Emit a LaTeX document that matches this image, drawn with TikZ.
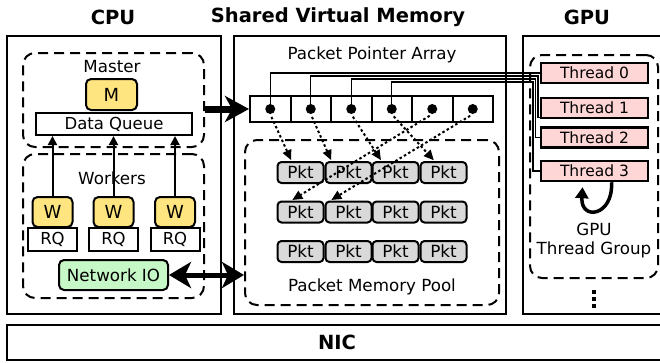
\documentclass[tikz,border=0pt]{standalone}
\usepackage{fontspec}
\setmainfont{DejaVu Sans}
\usetikzlibrary{arrows.meta,calc}

\definecolor{coreY}{HTML}{FFE57F}
\definecolor{ioG}{HTML}{C6F7C6}
\definecolor{thrP}{HTML}{FFD6D6}
\definecolor{pktG}{HTML}{D9D9D9}

\tikzset{
  panel/.style={draw, line width=2pt, inner sep=0pt},
  grp/.style={draw, line width=2pt, dash pattern=on 10pt off 6pt, rounded corners=12pt, inner sep=0pt},
  title/.style={font=\bfseries\fontsize{19.5}{22}\selectfont, inner sep=0pt},
  lbl/.style={font=\fontsize{16.7}{18}\selectfont, inner sep=0pt, align=center},
  core/.style={draw, line width=2pt, rounded corners=5pt, fill=coreY, inner sep=0pt,
    font=\fontsize{18}{20}\selectfont},
  plain/.style={draw, line width=2pt, fill=white, inner sep=0pt, font=\fontsize{16.5}{18}\selectfont},
  io/.style={draw, line width=2pt, rounded corners=5pt, fill=ioG, inner sep=0pt,
    font=\fontsize{16.7}{18}\selectfont},
  cell/.style={draw, line width=2pt, fill=white, minimum width=40.5pt, minimum height=26pt, inner sep=0pt},
  ptrdot/.style={circle, fill=black, minimum size=10pt, inner sep=0pt},
  pkt/.style={draw, line width=2pt, rounded corners=4pt, fill=pktG, minimum width=46pt,
    minimum height=21pt, inner sep=0pt, font=\fontsize{16.8}{18}\selectfont},
  thr/.style={draw, line width=2.5pt, fill=thrP, minimum width=107pt, minimum height=20pt,
    inner sep=0pt, font=\fontsize{15.5}{17}\selectfont},
  wire/.style={line width=1.2pt},
  uparrow/.style={line width=2pt, -{Triangle[length=9pt,width=9pt]}},
  ptr/.style={line width=2pt, dash pattern=on 2.5pt off 2.5pt, shorten <=3pt, shorten >=1pt,
    -{Triangle[length=10pt,width=9pt]}},
  bigarrow/.style={line width=7pt, -{Stealth[length=24pt,width=26pt,inset=7pt]}},
  bigdouble/.style={line width=5pt, {Stealth[length=22pt,width=26pt,inset=6pt]}-{Stealth[length=22pt,width=26pt,inset=6pt]}},
  looparrow/.style={line width=3.5pt, -{Triangle[length=11pt,width=13pt]}},
  vdots/.style={line width=4pt, dash pattern=on 4pt off 3pt}
}

\begin{document}
\begin{tikzpicture}[x=1pt,y=-1pt]
\useasboundingbox (0,0) rectangle (660,362);

% column titles
\node[title] (tcpu) at (113,17) {CPU};
\node[title] (tsvm) at (338,17) {Shared Virtual Memory};
\node[title] (tgpu) at (587,17) {GPU};

% outer panels
\node[panel, minimum width=214pt, minimum height=278pt] (cpu) at (114,175) {};
\node[panel, minimum width=272pt, minimum height=278pt] (svm) at (370,175) {};
\node[panel, minimum width=150pt, minimum height=278pt] (gpu) at (598,175) {};
\node[panel, minimum width=670pt, minimum height=35pt] (nicbox) at (342,342.5) {};
\node[title] (nic) at (337,342) {NIC};

% dashed groups
\node[grp, minimum width=181pt, minimum height=94pt] (master) at (113.5,100) {};
\node[grp, minimum width=181pt, minimum height=144pt] (workers) at (113.5,226) {};
\node[grp, minimum width=254pt, minimum height=165pt] (pool) at (372,222.5) {};
\node[grp, minimum width=128pt, minimum height=223pt] (tgroup) at (594,166.5) {};

% CPU side
\node[lbl] (lmaster) at (112,67) {Master};
\node[core, minimum width=51pt, minimum height=31pt] (m) at (111.5,94.5) {M};
\node[plain, minimum width=156pt, minimum height=22pt] (dq) at (114,124) {Data Queue};
\node[lbl] (lworkers) at (112,178) {Workers};
\foreach \i/\x in {1/52.5,2/113.5,3/175}{
  \node[core, minimum width=40pt, minimum height=30pt] (w\i) at (\x,212) {W};
  \node[plain, minimum width=49pt, minimum height=23pt] (rq\i) at (\x,239.5) {RQ};
  \draw[uparrow] (w\i.north) -- (w\i.north |- dq.south);
}
\node[io, minimum width=109pt, minimum height=30pt] (nio) at (113.5,275) {Network IO};

% shared memory: pointer array and packet pool
\node[lbl] (lppa) at (372,55) {Packet Pointer Array};
\foreach \i in {0,...,5}{
  \node[cell] (p\i) at ({270.25+40.5*\i},109) {};
}
\foreach \r/\y in {0/172.5,1/212,2/251.5}{
  \foreach \c/\x in {0/300.5,1/348.5,2/395.5,3/443.5}{
    \node[pkt] (k\r\c) at (\x,\y) {Pkt};
  }
}
\node[lbl] (lpool) at (372,287) {Packet Memory Pool};

% GPU threads
\foreach \i/\y in {0/73,1/108,2/137.5,3/171}{
  \node[thr] (t\i) at (594.5,\y) {Thread \i};
}
\node[lbl] (lgroup) at (594,241) {GPU\\[1pt]Thread Group};

% pointer-to-thread wiring
\coordinate (b1) at (538,76);
\coordinate (b2) at (535.5,79);
\coordinate (b3) at (533,82);
\draw[wire] (p0.center) |- (t0.west);
\draw[wire] (p1.center) |- (b1) |- ($(t1.south west)+(0,-2)$);
\draw[wire] (p2.center) |- (b2) |- (t2.west);
\draw[wire] (p3.center) |- (b3) |- (t3.west);
\foreach \i in {0,...,5}{
  \node[ptrdot] (d\i) at (p\i) {};
}

% pointers into the packet pool
\draw[ptr] (d0.south) -- ($(k00.north west)+(15,0)$);
\draw[ptr] (d1.south) -- ($(k01.north west)+(7,0)$);
\draw[ptr] (d2.south) -- ($(k02.north west)+(10,0)$);
\draw[ptr] (d3.south) -- ($(k03.north west)+(15,0)$);
\draw[ptr] (d4.south) -- ($(k10.north west)+(15,0)$);
\draw[ptr] (d5.south) -- ($(k11.north west)+(6,0)$);

% data flow
\draw[bigarrow] (master.east |- p0.west) -- (p0.west);
\draw[bigdouble] (nio.east) -- (nio.east -| pool.west);

% thread loop and continuation marks
\draw[looparrow] ($(t3.south)+(17,0)$) .. controls +(2,34) and +(-2,34) .. ($(t3.south)+(-12,5)$);
\draw[vdots] (594,290) -- (594,309);
\end{tikzpicture}
\end{document}
